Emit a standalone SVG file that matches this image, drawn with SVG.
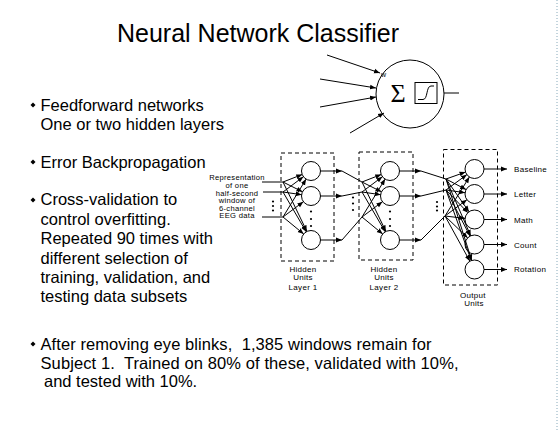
<svg xmlns="http://www.w3.org/2000/svg" width="558" height="431" viewBox="0 0 558 431">
<style>
text{font-family:"Liberation Sans",Arial,sans-serif;fill:#000}
.title{font-size:25px}
.b{font-size:16.5px;white-space:pre}
.s{font-size:7.6px;letter-spacing:0.3px}
.lbl{font-size:8px;letter-spacing:0.3px}
.n{fill:#fff;stroke:#000;stroke-width:1}
.box{fill:none;stroke:#000;stroke-width:1;stroke-dasharray:4,3}
.c line,.c path{stroke:#000;stroke-width:1;fill:none}
.a{marker-end:url(#ah)}
.dot{fill:#000}
</style>
<defs>
<marker id="ah" viewBox="0 0 6 6" refX="6" refY="3" markerWidth="6" markerHeight="6" markerUnits="userSpaceOnUse" orient="auto"><path d="M0,0.6 L6,3 L0,5.4 z" fill="#000"/></marker>
<polygon id="bul" points="0,-2.5 2.5,0 0,2.5 -2.5,0" fill="#000"/>
</defs>
<rect width="558" height="431" fill="#fff"/>
<line x1="557" y1="0" x2="557" y2="431" stroke="#8ab" stroke-width="1" stroke-dasharray="1,2"/>

<text class="title" x="117" y="41.5">Neural Network Classifier</text>

<g id="bullets">
<use href="#bul" x="33" y="105"/>
<text class="b" x="40.5" y="110.5">Feedforward networks</text>
<text class="b" x="40.5" y="129.5">One or two hidden layers</text>
<use href="#bul" x="33" y="162"/>
<text class="b" x="40.5" y="167.5">Error Backpropagation</text>
<use href="#bul" x="33" y="200"/>
<text class="b" x="40.5" y="205">Cross-validation to</text>
<text class="b" x="40.5" y="224.5">control overfitting.</text>
<text class="b" x="40.5" y="244">Repeated 90 times with</text>
<text class="b" x="40.5" y="263.5">different selection of</text>
<text class="b" x="40.5" y="282.5">training, validation, and</text>
<text class="b" x="40.5" y="301.5">testing data subsets</text>
<use href="#bul" x="33" y="344"/>
<text class="b" x="40.5" y="350" xml:space="preserve" textLength="391" lengthAdjust="spacing">After removing eye blinks,  1,385 windows remain for</text>
<text class="b" x="40.5" y="368.5" xml:space="preserve" textLength="418" lengthAdjust="spacing">Subject 1.  Trained on 80% of these, validated with 10%,</text>
<text class="b" x="44" y="387">and tested with 10%.</text>
</g>

<g id="neuron-model">
<circle class="n" cx="410" cy="94" r="34"/>
<text x="398" y="102" text-anchor="middle" style="font-family:'Liberation Serif','Times New Roman',serif;font-size:26px">Σ</text>
<rect x="415" y="82.5" width="22" height="21" fill="none" stroke="#000"/>
<path d="M418,99.5 L423,99.5 C428,99.5 426,86 431,86 L434,86" fill="none" stroke="#000"/>
<text x="381" y="77" style="font-size:7px">w</text>
</g>
<g class="c" id="neuron-model-links">
<line class="a" x1="327" y1="55" x2="380" y2="73"/>
<line class="a" x1="320" y1="79" x2="376" y2="88"/>
<line class="a" x1="320" y1="107" x2="376" y2="97"/>
<line class="a" x1="350" y1="133" x2="384" y2="113"/>
<line x1="444" y1="93" x2="459" y2="93"/>
</g>

<g id="input">
<text class="s" x="237" y="180" text-anchor="middle">Representation</text>
<text class="s" x="237" y="188" text-anchor="middle">of one</text>
<text class="s" x="237" y="195.5" text-anchor="middle">half-second</text>
<text class="s" x="237" y="203" text-anchor="middle">window of</text>
<text class="s" x="237" y="210.5" text-anchor="middle">6-channel</text>
<text class="s" x="237" y="218" text-anchor="middle">EEG data</text>
</g>

<g id="hidden-layer-1">
<rect class="box" x="281" y="153" width="53" height="108"/>
<circle class="n" cx="311" cy="171" r="9.5"/>
<circle class="n" cx="311" cy="196" r="9.5"/>
<circle class="n" cx="311" cy="240" r="9.5"/>
<circle class="dot" cx="311" cy="211.5" r="1.1"/>
<circle class="dot" cx="311" cy="219" r="1.1"/>
<circle class="dot" cx="311" cy="226" r="1.1"/>
<text class="lbl" x="303" y="272" text-anchor="middle">Hidden</text>
<text class="lbl" x="303" y="280" text-anchor="middle">Units</text>
<text class="lbl" x="303" y="290" text-anchor="middle">Layer 1</text>
</g>

<g id="hidden-layer-2">
<rect class="box" x="359" y="152" width="54" height="108"/>
<circle class="n" cx="390" cy="171" r="9.5"/>
<circle class="n" cx="390" cy="196" r="9.5"/>
<circle class="n" cx="390" cy="240" r="9.5"/>
<circle class="dot" cx="390" cy="211.5" r="1.1"/>
<circle class="dot" cx="390" cy="219" r="1.1"/>
<circle class="dot" cx="390" cy="226" r="1.1"/>
<text class="lbl" x="384" y="272" text-anchor="middle">Hidden</text>
<text class="lbl" x="384" y="280" text-anchor="middle">Units</text>
<text class="lbl" x="384" y="290" text-anchor="middle">Layer 2</text>
</g>

<g id="output-layer">
<rect class="box" x="443.5" y="149.5" width="54" height="135.5"/>
<circle class="n" cx="474.5" cy="169" r="9.5"/>
<circle class="n" cx="474.5" cy="194" r="9.5"/>
<circle class="n" cx="474.5" cy="219.5" r="9.5"/>
<circle class="n" cx="474.5" cy="244.5" r="9.5"/>
<circle class="n" cx="474.5" cy="269.5" r="9.5"/>
<text class="lbl" x="473" y="297.5" text-anchor="middle">Output</text>
<text class="lbl" x="474" y="306" text-anchor="middle">Units</text>
<text class="lbl" x="514" y="172">Baseline</text>
<text class="lbl" x="514" y="197">Letter</text>
<text class="lbl" x="514" y="222.5">Math</text>
<text class="lbl" x="514" y="248">Count</text>
<text class="lbl" x="514" y="271.5">Rotation</text>
</g>

<g class="c" id="connectors">
<line x1="262" y1="182" x2="283" y2="182"/>
<line x1="263" y1="192" x2="283" y2="192"/>
<line x1="262" y1="217" x2="283" y2="217"/>
<circle class="dot" cx="273" cy="201.5" r="1.1"/>
<circle class="dot" cx="273" cy="206" r="1.1"/>
<circle class="dot" cx="273" cy="210.5" r="1.1"/>

<line class="a" x1="283" y1="182" x2="302.2" y2="174.5"/>
<line class="a" x1="283" y1="182" x2="302.5" y2="191.8"/>
<line class="a" x1="283" y1="182" x2="306.9" y2="231.4"/>
<line class="a" x1="283" y1="192" x2="303.4" y2="176.7"/>
<line class="a" x1="283" y1="192" x2="301.6" y2="194.7"/>
<line class="a" x1="283" y1="192" x2="306.2" y2="231.8"/>
<line class="a" x1="283" y1="217" x2="306.1" y2="179.1"/>
<line class="a" x1="283" y1="217" x2="303.4" y2="201.7"/>
<line class="a" x1="283" y1="217" x2="303.7" y2="234"/>

<line class="a" x1="320.5" y1="171" x2="342" y2="171"/>
<line x1="342" y1="171" x2="362" y2="182"/>
<line class="a" x1="320.5" y1="196" x2="342" y2="196"/>
<line x1="342" y1="196" x2="362" y2="192"/>
<line class="a" x1="320.5" y1="240" x2="342" y2="240"/>
<line x1="342" y1="240" x2="362" y2="217"/>
<circle class="dot" cx="353" cy="197.5" r="1.1"/>
<circle class="dot" cx="353" cy="203.5" r="1.1"/>
<circle class="dot" cx="353" cy="210" r="1.1"/>

<line class="a" x1="362" y1="182" x2="381.2" y2="174.5"/>
<line class="a" x1="362" y1="182" x2="381.5" y2="191.8"/>
<line class="a" x1="362" y1="182" x2="385.9" y2="231.4"/>
<line class="a" x1="362" y1="192" x2="382.4" y2="176.7"/>
<line class="a" x1="362" y1="192" x2="380.6" y2="194.7"/>
<line class="a" x1="362" y1="192" x2="385.2" y2="231.8"/>
<line class="a" x1="362" y1="217" x2="385.1" y2="179.1"/>
<line class="a" x1="362" y1="217" x2="382.4" y2="201.7"/>
<line class="a" x1="362" y1="217" x2="382.7" y2="234"/>

<line class="a" x1="399.5" y1="171" x2="421" y2="171"/>
<line x1="421" y1="171" x2="446" y2="179"/>
<line class="a" x1="399.5" y1="196" x2="421" y2="196"/>
<line x1="421" y1="196" x2="446" y2="190"/>
<line class="a" x1="399.5" y1="240" x2="421" y2="240"/>
<line x1="421" y1="240" x2="445" y2="216"/>
<circle class="dot" cx="437" cy="202" r="1.1"/>
<circle class="dot" cx="437" cy="206.5" r="1.1"/>
<circle class="dot" cx="437" cy="210.5" r="1.1"/>

<line class="a" x1="446" y1="179" x2="465.5" y2="172.1"/>
<line class="a" x1="446" y1="179" x2="466.1" y2="189.6"/>
<line class="a" x1="446" y1="179" x2="469" y2="211.7"/>
<line class="a" x1="446" y1="179" x2="470.7" y2="235.8"/>
<line class="a" x1="446" y1="179" x2="471.7" y2="260.4"/>
<line class="a" x1="446" y1="190" x2="466.9" y2="174.6"/>
<line class="a" x1="446" y1="190" x2="465.1" y2="192.7"/>
<line class="a" x1="446" y1="190" x2="467.9" y2="212.7"/>
<line class="a" x1="446" y1="190" x2="470.1" y2="236.1"/>
<line class="a" x1="446" y1="190" x2="471.3" y2="260.6"/>
<line class="a" x1="445" y1="216" x2="469.4" y2="177"/>
<line class="a" x1="445" y1="216" x2="466.9" y2="199.7"/>
<line class="a" x1="445" y1="216" x2="465.1" y2="218.4"/>
<line class="a" x1="445" y1="216" x2="467.7" y2="237.9"/>
<line class="a" x1="445" y1="216" x2="469.9" y2="261.2"/>

<line class="a" x1="484" y1="169" x2="507" y2="169"/>
<line class="a" x1="484" y1="194" x2="507" y2="194"/>
<line class="a" x1="484" y1="219.5" x2="507" y2="219.5"/>
<line class="a" x1="484" y1="244.5" x2="507" y2="244.5"/>
<line class="a" x1="484" y1="269.5" x2="507" y2="269.5"/>
</g>
</svg>
